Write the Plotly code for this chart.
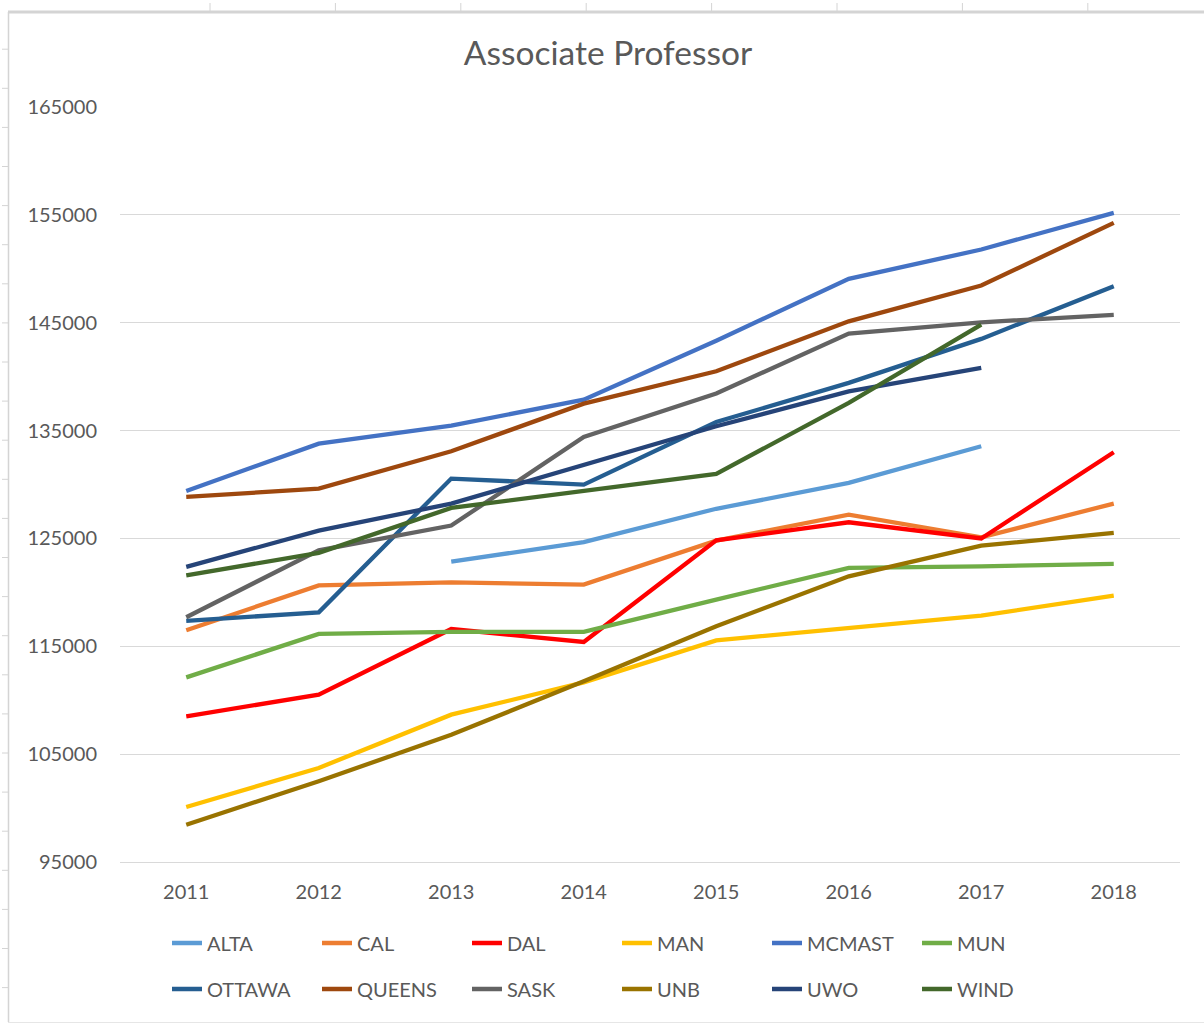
import plotly.graph_objects as go

years = ["2011", "2012", "2013", "2014", "2015", "2016", "2017", "2018"]

ALTA = [None, None, 122850, 124650, 127750, 130150, 133550, None]
CAL = [116480, 120650, 120930, 120720, 124800, 127200, 125100, 128230]
DAL = [108500, 110520, 116600, 115400, 124820, 126500, 125000, 132990]
MAN = [100100, 103720, 108660, 111650, 115550, 116700, 117840, 119700]
MCMAST = [129400, 133790, 135460, 137870, 143320, 149070, 151790, 155190]
MUN = [112120, 116150, 116330, 116330, 119330, 122270, 122410, 122640]
OTTAWA = [117350, 118150, 130550, 129990, 135800, 139420, 143500, 148380]
QUEENS = [128850, 129620, 133080, 137500, 140500, 145130, 148450, 154260]
SASK = [117690, 123900, 126190, 134400, 138430, 144000, 145040, 145730]
UNB = [98460, 102480, 106800, 111750, 116850, 121490, 124330, 125510]
UWO = [122360, 125720, 128230, 131850, 135400, 138640, 140810, None]
WIND = [121580, 123660, 127830, 129430, 130980, 137570, 144830, None]

series_names = ["ALTA", "CAL", "DAL", "MAN", "MCMAST", "MUN",
                "OTTAWA", "QUEENS", "SASK", "UNB", "UWO", "WIND"]
series_values = [ALTA, CAL, DAL, MAN, MCMAST, MUN,
                 OTTAWA, QUEENS, SASK, UNB, UWO, WIND]
series_colors = ["#5B9BD5", "#ED7D31", "#FF0000", "#FFC000", "#4472C4", "#70AD47",
                 "#255E91", "#9E480E", "#636363", "#997300", "#264478", "#43682B"]

y_ticks = [95000, 105000, 115000, 125000, 135000, 145000, 155000, 165000]

W, H = 1204, 1025
ML, MR, MT, MB = 120, 24, 107, 163
PW, PH = W - ML - MR, H - MT - MB

def px_x(px):
    return (px - ML) / PW

def px_y(py):
    return (H - MB - py) / PH

fig = go.Figure()
for i, (name, vals, col) in enumerate(zip(series_names, series_values, series_colors)):
    fig.add_trace(go.Scatter(
        x=years, y=vals, name=name, mode="lines",
        line=dict(color=col, width=4.3),
        legend="legend" if i < 6 else "legend2",
    ))

font_family = "Lato, 'Open Sans', sans-serif"
txt = "#595959"

legend_common = dict(
    orientation="h", xanchor="left", yanchor="middle",
    entrywidth=105, entrywidthmode="pixels",
    font=dict(family=font_family, size=20, color=txt),
    bgcolor="rgba(0,0,0,0)", borderwidth=0, itemwidth=30,
    x=px_x(167),
)

# Excel sheet frame and ruler marks
shapes = []
frame = "#D4D4D4"
shapes.append(dict(type="line", xref="paper", yref="paper",
                   x0=px_x(8), x1=px_x(1204), y0=px_y(12), y1=px_y(12),
                   line=dict(color=frame, width=3)))
shapes.append(dict(type="line", xref="paper", yref="paper",
                   x0=px_x(8.5), x1=px_x(8.5), y0=px_y(12), y1=px_y(1022),
                   line=dict(color=frame, width=1.5)))
shapes.append(dict(type="line", xref="paper", yref="paper",
                   x0=px_x(8), x1=px_x(1204), y0=px_y(1022.5), y1=px_y(1022.5),
                   line=dict(color="#E6E6E6", width=1)))
for k in range(8):
    xx = 210 + 125.4 * k
    shapes.append(dict(type="line", xref="paper", yref="paper",
                       x0=px_x(xx), x1=px_x(xx), y0=px_y(3), y1=px_y(11),
                       line=dict(color=frame, width=1)))
for k in range(25):
    yy = 49.2 + 39.1 * k
    shapes.append(dict(type="line", xref="paper", yref="paper",
                       x0=px_x(2), x1=px_x(8), y0=px_y(yy), y1=px_y(yy),
                       line=dict(color=frame, width=1)))

fig.update_layout(
    width=W, height=H,
    margin=dict(l=ML, r=MR, t=MT, b=MB, pad=0),
    paper_bgcolor="white", plot_bgcolor="white",
    title=dict(text="Associate Professor", x=(608) / W, xanchor="center",
               y=1 - 53 / H, yanchor="middle",
               font=dict(family=font_family, size=33.5, color=txt)),
    xaxis=dict(type="category", range=[-0.5, 7.5], showgrid=False,
               showline=True, linecolor="#D9D9D9", linewidth=1,
               ticks="", tickfont=dict(family=font_family, size=20, color=txt),
               ticklabelstandoff=12, zeroline=False),
    yaxis=dict(range=[95000, 165000], tickvals=y_ticks,
               ticktext=[str(v) for v in y_ticks],
               showgrid=True, gridcolor="#D9D9D9", gridwidth=1,
               ticks="", ticklabelstandoff=22, zeroline=False, showline=False,
               tickfont=dict(family=font_family, size=20, color=txt)),
    legend=dict(legend_common, y=px_y(943)),
    legend2=dict(legend_common, y=px_y(989)),
    shapes=shapes,
    showlegend=True,
)

fig.write_html("out.html", config={"displayModeBar": False},
               post_script="document.body.style.margin='0';")
